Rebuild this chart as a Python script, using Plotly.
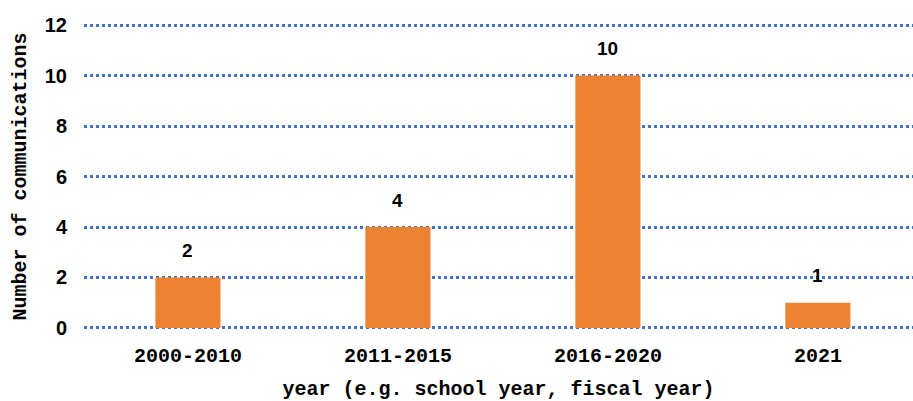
import plotly.graph_objects as go

categories = ["2000-2010", "2011-2015", "2016-2020", "2021"]
values = [2, 4, 10, 1]
y_ticks = [0, 2, 4, 6, 8, 10, 12]

mono = "Liberation Mono"
fig = go.Figure()
fig.add_trace(go.Bar(
    x=list(range(len(categories))), y=values,
    marker=dict(color="#ED8232", line=dict(width=0)),
    width=0.31,
))
for i, v in enumerate(values):
    fig.add_annotation(x=i, y=v, text="<b>" + str(v) + "</b>", showarrow=False, yshift=27,
                       font=dict(family="Liberation Sans", size=19, color="#000"),
                       xref="x", yref="y")

fig.update_layout(
    width=913, height=401,
    margin=dict(l=84, r=0, t=24, b=72),
    plot_bgcolor="white", paper_bgcolor="white",
    showlegend=False,
    xaxis=dict(
        range=[-0.495, 3.453],
        tickmode="array", tickvals=list(range(len(categories))),
        ticktext=["<b>" + c + "</b>" for c in categories],
        tickfont=dict(family=mono, size=20, color="#000"),
        showgrid=False, zeroline=False, showline=False, ticks="",
        ticklabelstandoff=12,
        title=dict(text="<b>year (e.g. school year, fiscal year)</b>",
                   font=dict(family=mono, size=20, color="#000"),
                   standoff=15),
    ),
    yaxis=dict(
        range=[-0.04, 12.04],
        tickmode="array", tickvals=y_ticks,
        ticktext=["<b>" + str(t) + "</b>" for t in y_ticks],
        tickfont=dict(family="Liberation Sans", size=20, color="#000"),
        showgrid=True, gridcolor="#4472C4", gridwidth=2.5, griddash="dot",
        zeroline=False, showline=False, ticks="",
        ticklabelstandoff=16,
        title=dict(text="<b>Number of communications</b>",
                   font=dict(family=mono, size=20, color="#000"),
                   standoff=12),
    ),
)
fig.write_html("out.html")
